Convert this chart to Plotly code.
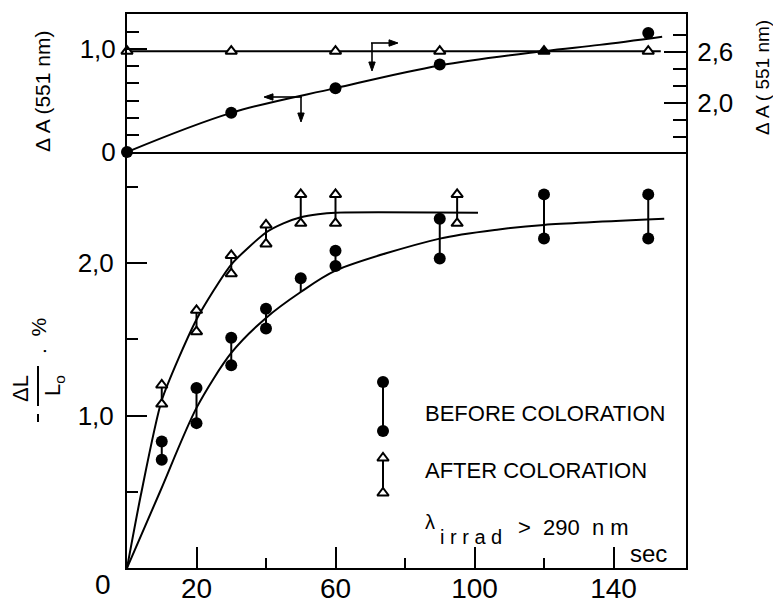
import plotly.graph_objects as go

# ---------------- data ----------------
# upper panel: Delta A (551 nm)
t_up = [0, 30, 60, 90, 150]
dA_left = [0.0, 0.38, 0.62, 0.85, 1.155]            # filled circles, left axis
t_up_tri = [0, 30, 60, 90, 120, 150]
dA_right = [2.61, 2.61, 2.61, 2.61, 2.61, 2.61]      # open triangles, right axis
fit_up_x = [0, 30, 60, 90, 120, 136, 154]
fit_up_y = [0.0, 0.38, 0.62, 0.84, 0.98, 1.04, 1.12]
tri_line_x = [0, 153.6]
tri_line_y = [2.61, 2.61]

# lower panel: -dL/L0 (%)
t_before = [10, 20, 30, 40, 50, 60, 90, 120, 150]
before_hi = [0.83, 1.18, 1.51, 1.70, 1.90, 2.08, 2.29, 2.45, 2.45]
before_lo = [0.71, 0.95, 1.33, 1.57, None, 1.98, 2.03, 2.16, 2.16]
before_bar_lo = [0.71, 0.95, 1.33, 1.57, 1.81, 1.98, 2.03, 2.16, 2.16]

t_after = [10, 20, 30, 40, 50, 60, 95]
after_hi = [1.20, 1.69, 2.05, 2.25, 2.45, 2.45, 2.45]
after_lo = [1.075, 1.55, 1.93, 2.125, 2.26, 2.26, 2.26]

fit_before_x = [0, 9.5, 20, 30, 40, 50, 60, 90, 107, 120, 154.6]
fit_before_y = [0, 0.50, 1.05, 1.41, 1.64, 1.81, 1.95, 2.16, 2.22, 2.25, 2.29]
fit_after_x = [0, 4, 10, 20, 30, 40, 45, 50, 55, 60, 101]
fit_after_y = [0, 0.48, 1.10, 1.63, 1.99, 2.20, 2.26, 2.30, 2.32, 2.33, 2.33]

x_ticks = [20, 60, 100, 140]
x_minor = [40, 80, 120]

# ---------------- layout helpers ----------------
W, H = 773, 612
HE = 597            # height actually available in the rendered page
FONT = "Liberation Sans, Arial, sans-serif"
NB = "\u00a0"


def px(x):
    return x / W


def py(y):
    return 1 - y / HE


X_L, X_R = 127, 686
Y_TOP, Y_MID, Y_BOT = 14, 152, 568
XSCALE = 3.475          # px per second
LSCALE = 152.5          # px per % (lower)
USCALE = 103.0          # px per unit (upper left)
RSCALE = 85.0           # px per unit (upper right)

x_range = [0, (X_R - X_L) / XSCALE]
yl_range = [0, (Y_BOT - Y_MID) / LSCALE]
yu_range = [0, (Y_MID - Y_TOP) / USCALE]
yr_range = [2.0 - (Y_MID - 103) / RSCALE, 2.0 + (103 - Y_TOP) / RSCALE]


def to_x(p):
    return (p - X_L) / XSCALE


def to_yl(p):
    return (Y_BOT - p) / LSCALE


def bars(xs, lo, hi):
    bx, by = [], []
    for x, a, b in zip(xs, lo, hi):
        bx += [x, x, None]
        by += [a, b, None]
    return bx, by


K = "black"
fig = go.Figure()

# upper panel
fig.add_trace(go.Scatter(x=fit_up_x, y=fit_up_y, mode="lines", line=dict(color=K, width=2, shape="spline"),
                         xaxis="x2", yaxis="y2", cliponaxis=False))
fig.add_trace(go.Scatter(x=t_up, y=dA_left, mode="markers", marker=dict(color=K, size=12),
                         xaxis="x2", yaxis="y2", cliponaxis=False))
fig.add_trace(go.Scatter(x=tri_line_x, y=tri_line_y, mode="lines", line=dict(color=K, width=2),
                         xaxis="x2", yaxis="y3", cliponaxis=False))
fig.add_trace(go.Scatter(x=t_up_tri, y=dA_right, mode="markers",
                         marker=dict(symbol="triangle-up", size=10,
                                     color=[K if t == 120 else "white" for t in t_up_tri],
                                     line=dict(color=K, width=2)),
                         xaxis="x2", yaxis="y3", cliponaxis=False))

# lower panel
fig.add_trace(go.Scatter(x=fit_before_x, y=fit_before_y, mode="lines",
                         line=dict(color=K, width=2, shape="spline", smoothing=0.8), cliponaxis=False))
fig.add_trace(go.Scatter(x=fit_after_x, y=fit_after_y, mode="lines",
                         line=dict(color=K, width=2, shape="spline", smoothing=0.6), cliponaxis=False))
bx, by = bars(t_before, before_bar_lo, before_hi)
fig.add_trace(go.Scatter(x=bx, y=by, mode="lines", line=dict(color=K, width=2)))
bx, by = bars(t_after, after_lo, after_hi)
fig.add_trace(go.Scatter(x=bx, y=by, mode="lines", line=dict(color=K, width=2)))
fig.add_trace(go.Scatter(x=t_before + t_before, y=before_hi + before_lo, mode="markers",
                         marker=dict(color=K, size=12)))
fig.add_trace(go.Scatter(x=t_after + t_after, y=after_hi + after_lo, mode="markers",
                         marker=dict(symbol="triangle-up", size=10, color="white", line=dict(color=K, width=2))))

# legend keys (positioned in pixels)
kx = to_x(383)
fig.add_trace(go.Scatter(x=[kx, kx], y=[to_yl(382), to_yl(431)], mode="lines+markers",
                         line=dict(color=K, width=2), marker=dict(color=K, size=12)))
fig.add_trace(go.Scatter(x=[kx, kx], y=[to_yl(458), to_yl(493)], mode="lines+markers",
                         line=dict(color=K, width=2),
                         marker=dict(symbol="triangle-up", size=10, color="white", line=dict(color=K, width=2))))

ann = []


def text(t, x, y, size, angle=0, xanchor="center"):
    ann.append(dict(text=t, x=px(x), y=py(y), xref="paper", yref="paper", showarrow=False,
                    textangle=angle, xanchor=xanchor, yanchor="middle",
                    font=dict(family=FONT, size=size, color=K)))


text("BEFORE COLORATION", 423, 413, 22, xanchor="left")
text("AFTER COLORATION", 423, 470, 22, xanchor="left")
text("λ", 430, 522, 20)
text("i r r a d", 438, 537, 20, xanchor="left")
text(">" + NB * 2 + "290" + NB * 2 + "n" + NB + "m", 516, 527, 22, xanchor="left")
text("sec", 648, 553, 24)
text("0", 103, 584, 28)
text("Δ A (551 nm)", 43, 92, 21, angle=-90)
text("Δ A ( 551 nm)", 762, 78, 19, angle=-90)
text("ΔL", 20, 389, 22, angle=-90)
text("L<sub>o</sub>", 54, 386, 22, angle=-90)
text("." + NB * 2 + "%", 38, 336, 21, angle=-90)

shapes = [
    # fraction bar and leading minus of the rotated y label
    dict(type="line", xref="paper", yref="paper", x0=px(38), x1=px(38), y0=py(366), y1=py(406),
         line=dict(color=K, width=2)),
    dict(type="line", xref="paper", yref="paper", x0=px(38), x1=px(38), y0=py(414), y1=py(422),
         line=dict(color=K, width=2)),
]


def arrow(tx, ty, hx, hy, length=9, half=3.2):
    # shaft + filled head, all positioned in pixels
    dx, dy = hx - tx, hy - ty
    n = (dx * dx + dy * dy) ** 0.5
    ux, uy = dx / n, dy / n
    bx_, by_ = hx - ux * length, hy - uy * length
    shapes.append(dict(type="line", xref="paper", yref="paper", x0=px(tx), y0=py(ty),
                       x1=px(bx_), y1=py(by_), line=dict(color=K, width=1.6)))
    p1 = (bx_ - uy * half, by_ + ux * half)
    p2 = (bx_ + uy * half, by_ - ux * half)
    path = "M {} {} L {} {} L {} {} Z".format(px(hx), py(hy), px(p1[0]), py(p1[1]), px(p2[0]), py(p2[1]))
    shapes.append(dict(type="path", xref="paper", yref="paper", path=path, fillcolor=K,
                       line=dict(color=K, width=1)))


arrow(371, 43, 398, 43)
arrow(372, 43, 372, 71)
arrow(302, 97, 264, 97)
arrow(301, 97, 301, 122)

axis_common = dict(showgrid=False, zeroline=False, linecolor=K, linewidth=2, ticks="inside",
                   tickcolor=K, tickwidth=1.5, tickfont=dict(family=FONT, size=26, color=K))

fig.update_layout(
    width=W, height=H, autosize=False, margin=dict(l=0, r=0, t=0, b=0, pad=0),
    paper_bgcolor="white", plot_bgcolor="white", showlegend=False,
    annotations=ann, shapes=shapes,
    xaxis=dict(**axis_common, domain=[px(X_L), px(X_R)], range=x_range, anchor="y",
               showline=True, mirror=False, tickvals=x_ticks, ticktext=[str(v) for v in x_ticks],
               ticklen=21, ticklabelstandoff=-6,
               minor=dict(tickvals=x_minor, ticklen=10, ticks="inside", tickcolor=K, tickwidth=1.5)),
    yaxis=dict(**axis_common, domain=[py(Y_BOT), py(Y_MID)], range=yl_range, anchor="x",
               showline=True, mirror=True, tickvals=[1, 2], ticktext=["1,0", "2,0"], ticklen=20,
               ticklabelstandoff=6,
               minor=dict(tickvals=[0.5, 1.5, 2.5], ticklen=11, ticks="inside", tickcolor=K, tickwidth=1.5)),
    xaxis2=dict(showgrid=False, zeroline=False, domain=[px(X_L), px(X_R)], range=x_range, anchor="y2",
                showline=True, mirror=True, linecolor=K, linewidth=2, ticks="", showticklabels=False),
    yaxis2=dict(**axis_common, domain=[py(Y_MID), py(Y_TOP)], range=yu_range, anchor="x2",
                showline=True, tickvals=[0, 1], ticktext=["0", "1,0"], ticklen=20, ticklabelstandoff=4,
                minor=dict(tickvals=[k / 6 for k in range(1, 8)], ticklen=12, ticks="inside",
                           tickcolor=K, tickwidth=1.5)),
    yaxis3=dict(**axis_common, overlaying="y2", side="right", range=yr_range, anchor="x2",
                showline=True, tickvals=[2.0, 2.6], ticktext=["2,0", "2,6"], ticklen=22, ticklabelstandoff=4,
                minor=dict(tickvals=[1.6, 1.8, 2.2, 2.4, 2.8], ticklen=13, ticks="inside",
                           tickcolor=K, tickwidth=1.5)),
)
fig.update_xaxes(tickfont_size=28, selector=dict(anchor="y"))

fig.write_html("out.html", config={"responsive": False, "displayModeBar": False})
